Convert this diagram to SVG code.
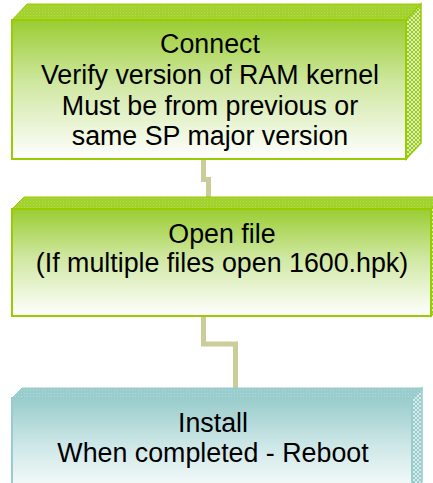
<svg xmlns="http://www.w3.org/2000/svg" width="433" height="483" viewBox="0 0 433 483">
<defs>
<style>
.lbl{font-family:"Liberation Sans",Arial,sans-serif;font-size:26.8px;fill:#000;text-anchor:middle}
.conn{fill:none;stroke:#cccc99;stroke-width:5;stroke-linejoin:miter}
.gfront{fill:url(#gGreen);stroke:#99cc00;stroke-width:2}
.gtop{fill:url(#pGreenTop);stroke:#99cc00;stroke-width:1}
.gside{fill:url(#pGreenSide);stroke:#99cc00;stroke-width:1.5}
.tfront{fill:url(#gTeal);stroke:#99cccc;stroke-width:2}
.ttop{fill:url(#pTealTop);stroke:#99cccc;stroke-width:1}
.tside{fill:url(#pTealSide);stroke:#99cccc;stroke-width:1.5}
</style>
<linearGradient id="gGreen" x1="0" y1="0" x2="0" y2="1">
<stop offset="0" stop-color="#9acd32"/>
<stop offset="0.45" stop-color="#cfe7a0"/>
<stop offset="1" stop-color="#ffffff"/>
</linearGradient>
<linearGradient id="gTeal" x1="0" y1="0" x2="0" y2="1">
<stop offset="0" stop-color="#99cccc"/>
<stop offset="0.5" stop-color="#d0e8e8"/>
<stop offset="1" stop-color="#ffffff"/>
</linearGradient>
<pattern id="pGreenTop" width="3" height="3" patternUnits="userSpaceOnUse">
<rect width="3" height="3" fill="#a3d12e"/>
<rect width="1" height="1" fill="#b5da5a"/>
</pattern>
<pattern id="pTealTop" width="3" height="3" patternUnits="userSpaceOnUse">
<rect width="3" height="3" fill="#99cccc"/>
<rect width="1" height="1" fill="#b3d9d9"/>
</pattern>
<pattern id="pGreenSide" width="4" height="4" patternUnits="userSpaceOnUse">
<rect width="4" height="4" fill="#dcedb5"/>
<path d="M0 0L4 4M4 0L0 4" stroke="#99cc22" stroke-width="1"/>
</pattern>
<pattern id="pTealSide" width="4" height="4" patternUnits="userSpaceOnUse">
<rect width="4" height="4" fill="#d8ebeb"/>
<path d="M0 0L4 4M4 0L0 4" stroke="#99cccc" stroke-width="1"/>
</pattern>
</defs>
<g id="connectors">
<polyline class="conn" points="203.5,159 203.5,179.5 208.5,179.5 208.5,198"/>
<polyline class="conn" points="203.5,316 203.5,344 235.5,344 235.5,389"/>
</g>
<g id="node-connect">
<polygon class="gtop" points="12,20 27,4 421,4 406,20"/>
<polygon class="gside" points="406,20 421,4 421,143 406,159"/>
<rect class="gfront" x="12" y="20" width="394" height="139"/>
<text class="lbl" x="210" y="53">Connect</text>
<text class="lbl" x="210" y="83.5">Verify version of RAM kernel</text>
<text class="lbl" x="210" y="114.5">Must be from previous or</text>
<text class="lbl" x="210" y="145">same SP major version</text>
</g>
<g id="node-open">
<polygon class="gtop" points="12,209 24,197 443,197 431,209"/>
<polygon class="gside" points="431,209 443,197 443,304 431,316"/>
<rect class="gfront" x="12" y="209" width="419" height="107"/>
<text class="lbl" x="222" y="242.5">Open file</text>
<text class="lbl" x="222" y="271.5">(If multiple files open 1600.hpk)</text>
</g>
<g id="node-install">
<polygon class="ttop" points="12,398 22,388 422,388 412,398"/>
<polygon class="tside" points="412,398 422,388 422,482 412,492"/>
<rect class="tfront" x="12" y="398" width="400" height="100"/>
<text class="lbl" x="213" y="431.5">Install</text>
<text class="lbl" x="213" y="461.5">When completed - Reboot</text>
</g>
</svg>
